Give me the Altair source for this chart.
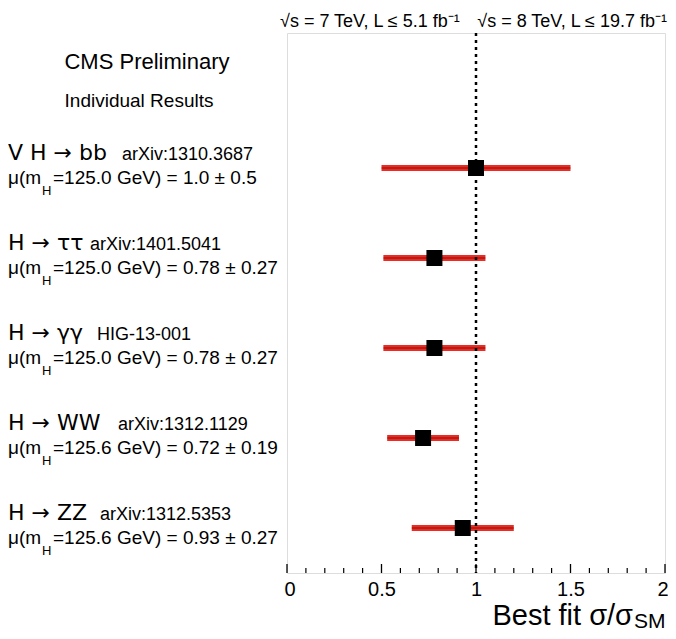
import altair as alt
import pandas as pd

# ---------------- data ----------------
channels = ["V H → bb", "H → ττ", "H → γγ", "H → WW", "H → ZZ"]
refs = ["arXiv:1310.3687", "arXiv:1401.5041", "HIG-13-001", "arXiv:1312.1129", "arXiv:1312.5353"]
masses = ["125.0", "125.0", "125.0", "125.6", "125.6"]
mu = [1.0, 0.78, 0.78, 0.72, 0.93]
err = [0.5, 0.27, 0.27, 0.19, 0.27]
decimals = [1, 2, 2, 2, 2]
sm_value = [1.0]
major_ticks = [0, 0.5, 1, 1.5, 2]
minor_ticks = [0.1, 0.2, 0.3, 0.4, 0.6, 0.7, 0.8, 0.9, 1.1, 1.2, 1.3, 1.4, 1.6, 1.7, 1.8, 1.9]
header_left = "√s = 7 TeV, L ≤ 5.1 fb⁻¹"
header_right = "√s = 8 TeV, L ≤ 19.7 fb⁻¹"

# ---------------- layout constants ----------------
W, H = 378, 540
FONT = "Liberation Sans, Arial, Helvetica, sans-serif"
BIGFONT = "DejaVu Sans, Liberation Sans, sans-serif"
RED = "#ee2a22"
REF_X = [-165, -197, -190, -169, -187]   # pixel offset of reference label per row

mtext = [
    f"={m} GeV) = {v:.{d}f} ± {e:.{d}f}"
    for m, v, e, d in zip(masses, mu, err, decimals)
]
df = pd.DataFrame({
    "channel": channels,
    "ref": refs,
    "mu": mu,
    "lo": [v - e for v, e in zip(mu, err)],
    "hi": [v + e for v, e in zip(mu, err)],
    "mtext": mtext,
    "mu_open": ["μ(m"] * len(channels),
    "sub": ["H"] * len(channels),
})

xs = alt.Scale(domain=[0, 2], nice=False, zero=False)
ys = alt.Scale(domain=[" "] + channels, paddingInner=0, paddingOuter=0)
xax = alt.Axis(values=major_ticks, format="~g", domain=False, ticks=False, tickSize=0,
               grid=False, labelFont=FONT, labelFontSize=20, labelColor="black",
               labelPadding=6, title=None, labelFlush=True, labelFlushOffset=3)
Y = alt.Y("channel:N", scale=ys, axis=None)

base = alt.Chart(df)

bars = base.mark_rule(color=RED, strokeWidth=6).encode(
    x=alt.X("lo:Q", scale=xs, axis=xax), x2="hi:Q", y=Y)
inner = base.mark_rule(color="black", strokeWidth=1, opacity=0.5).encode(
    x=alt.X("lo:Q", scale=xs, axis=xax), x2="hi:Q", y=Y)
pts = base.mark_square(size=256, color="black", filled=True, opacity=1).encode(
    x=alt.X("mu:Q", scale=xs, axis=xax), y=Y)

sm_line = alt.Chart(pd.DataFrame({"v": sm_value})).mark_rule(
    color="black", strokeWidth=2.5, strokeDash=[3, 4]).encode(
    x=alt.X("v:Q", scale=xs, axis=xax))

maj = alt.Chart(pd.DataFrame({"v": major_ticks})).mark_rule(
    color="black", strokeWidth=1.3).encode(
    x=alt.X("v:Q", scale=xs, axis=xax), y=alt.value(H), y2=alt.value(H - 9))
mino = alt.Chart(pd.DataFrame({"v": minor_ticks})).mark_rule(
    color="black", strokeWidth=1.2).encode(
    x=alt.X("v:Q", scale=xs, axis=xax), y=alt.value(H), y2=alt.value(H - 5))

big = base.mark_text(align="left", baseline="alphabetic", font=BIGFONT, fontSize=22,
                     color="black", dy=-8).encode(
    x=alt.value(-279), y=Y, text="channel:N")
mu_open = base.mark_text(align="left", baseline="alphabetic", font=FONT, fontSize=19,
                         color="black", dy=16).encode(
    x=alt.value(-279), y=Y, text="mu_open:N")
sub = base.mark_text(align="left", baseline="alphabetic", font=FONT, fontSize=13,
                     color="black", dy=27).encode(
    x=alt.value(-245), y=Y, text="sub:N")
mrest = base.mark_text(align="left", baseline="alphabetic", font=FONT, fontSize=19,
                       color="black", dy=16).encode(
    x=alt.value(-234), y=Y, text="mtext:N")

ref_layers = []
for ch, px in zip(channels, REF_X):
    ref_layers.append(
        base.transform_filter(alt.datum.channel == ch).mark_text(
            align="left", baseline="alphabetic", font=FONT, fontSize=18,
            color="black", dy=-8).encode(x=alt.value(px), y=Y, text="ref:N"))


def note(txt, x, y, size, align="left"):
    return alt.Chart(pd.DataFrame({"t": [txt]})).mark_text(
        align=align, baseline="alphabetic", font=FONT, fontSize=size, color="black"
    ).encode(x=alt.value(x), y=alt.value(y), text="t:N")


notes = [
    note(header_left, -7, -6, 18),
    note(header_right, 380, -6, 18, "right"),
    note("CMS Preliminary", -140, 36, 22, "center"),
    note("Individual Results", -148, 74, 19, "center"),
    note("Best fit σ/σ", 346, 592, 29, "right"),
    note("SM", 347, 595, 21),
]

chart = alt.layer(
    bars, inner, sm_line, pts, maj, mino, big, mu_open, sub, mrest, *ref_layers, *notes
).properties(
    width=W, height=H,
    autosize=alt.AutoSizeParams(type="none"),
    padding={"left": 279, "top": 25, "right": 3, "bottom": 58},
).configure_view(stroke="black", strokeWidth=1.5).configure(background="white")

chart.save("out.html", embed_options={"renderer": "svg", "actions": False})
